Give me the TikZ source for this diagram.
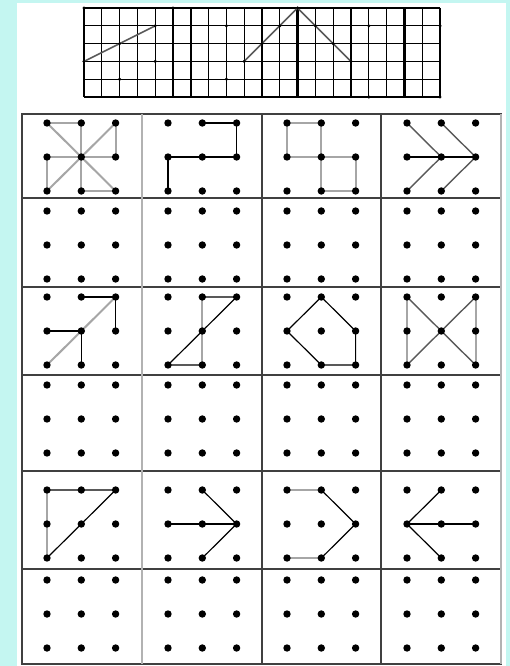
\documentclass[tikz,border=0pt]{standalone}
\definecolor{bgcyan}{RGB}{196,246,241}
\tikzset{
  blk/.style={black,line width=1.2pt},
  gry/.style={gray!70,line width=2pt},
  dkg/.style={black!65,line width=1.4pt},
  frame/.style={black!75,line width=1.5pt},
}
\begin{document}
\begin{tikzpicture}[x=1pt,y=-1pt]
  \fill[bgcyan] (0,0) rectangle (510,666);
  \fill[white] (17,3) rectangle (506,666);
  % squared strip at the top
  \foreach \k in {0,...,20}
    \draw[line width=1.2pt] (84+17.8*\k,8) -- (84+17.8*\k,97);
  \foreach \k in {6,12,18}
    \draw[line width=2.4pt] (84+17.8*\k,8) -- (84+17.8*\k,97);
  \foreach \k in {0,...,5}
    \draw[line width=1.2pt] (84,8+17.8*\k) -- (440,8+17.8*\k);
  \coordinate (s1) at (84,61.4);
  \coordinate (s2) at (155.2,25.8);
  \coordinate (s3) at (244.2,61.4);
  \coordinate (s4) at (297.6,8);
  \coordinate (s5) at (351,61.4);
  \draw[dkg,line width=1.6pt] (s1) -- (s2);
  \draw[dkg,line width=1.6pt] (s3) -- (s4) -- (s5);
  \foreach \a/\b in {0/5,5/5,2/3,4/4,0/2,4/2,2/1,8/4,8/1,9/2,10/3,11/4,12/5,13/4,14/3,15/2,16/4,16/0,20/4,20/0}
    \fill (84+17.8*\a,97-17.8*\b) circle (1.7pt);
  % table
  \draw[frame] (22,114) rectangle (501,664);
  \foreach \y in {198,287,375,471,569}
    \draw[frame] (22,\y) -- (501,\y);
  \draw[gray!60,line width=1.4pt] (142,114) -- (142,664);
  \draw[frame] (262,114) -- (262,664);
  \draw[frame] (381,114) -- (381,664);
  \draw[gray!60,line width=1.4pt] (501,114) -- (501,664);
  % dot boards
  \foreach \r/\yy in {1/123,2/211,3/297,4/385,5/490,6/580}
    \foreach \c/\xx in {1/47,2/168,3/287,4/407}
      \foreach \i in {0,1,2}
        \foreach \j in {0,1,2}
          \coordinate (b\r\c-\i\j) at (\xx+34.3*\i,\yy+34*\j);
  % row 1
  \draw[gry] (b11-00) -- (b11-10) -- (b11-12) -- (b11-22);
  \draw[gry] (b11-20) -- (b11-21) -- (b11-01) -- (b11-02);
  \draw[gry] (b11-00) -- (b11-22) (b11-20) -- (b11-02);
  \draw[blk] (b12-10) -- (b12-20) -- (b12-21) -- (b12-01) -- (b12-02);
  \draw[gry] (b13-01) -- (b13-00) -- (b13-10) -- (b13-12) -- (b13-22) -- (b13-21) -- (b13-01);
  \draw[dkg] (b14-00) -- (b14-11) -- (b14-02);
  \draw[dkg] (b14-10) -- (b14-21) -- (b14-12);
  \draw[blk] (b14-01) -- (b14-21);
  % row 3
  \draw[blk] (b31-10) -- (b31-20) -- (b31-21);
  \draw[blk] (b31-01) -- (b31-11) -- (b31-12);
  \draw[gry] (b31-20) -- (b31-02);
  \draw[gry] (b32-10) -- (b32-12);
  \draw[blk] (b32-10) -- (b32-20) -- (b32-02) -- (b32-12);
  \draw[blk] (b33-10) -- (b33-21) -- (b33-22) -- (b33-12) -- (b33-01) -- cycle;
  \draw[gry] (b34-00) -- (b34-02) (b34-20) -- (b34-22);
  \draw[dkg] (b34-00) -- (b34-22) (b34-20) -- (b34-02);
  % row 5
  \draw[gry] (b51-00) -- (b51-02);
  \draw[blk] (b51-00) -- (b51-20) -- (b51-02);
  \draw[blk] (b52-10) -- (b52-21) -- (b52-12);
  \draw[blk] (b52-01) -- (b52-21);
  \draw[gry] (b53-00) -- (b53-10) (b53-02) -- (b53-12);
  \draw[blk] (b53-10) -- (b53-21) -- (b53-12);
  \draw[blk] (b54-10) -- (b54-01) -- (b54-12);
  \draw[blk] (b54-01) -- (b54-21);
  % dots on top
  \foreach \r in {1,...,6}
    \foreach \c in {1,...,4}
      \foreach \i in {0,1,2}
        \foreach \j in {0,1,2}
          \fill (b\r\c-\i\j) circle (3.7pt);
\end{tikzpicture}
\end{document}
